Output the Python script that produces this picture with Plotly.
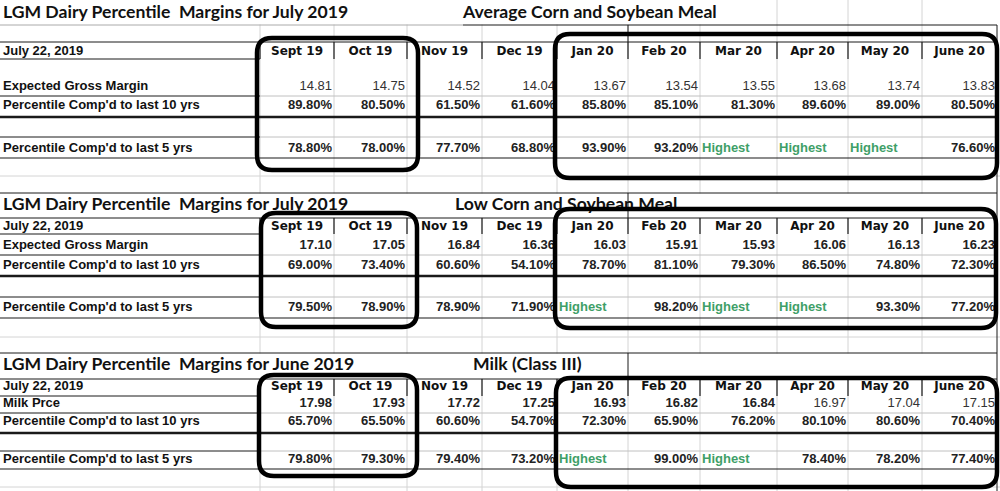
import plotly.graph_objects as go

# ---------------- data ----------------
months = ["Sept 19", "Oct 19", "Nov 19", "Dec 19", "Jan 20", "Feb 20",
          "Mar 20", "Apr 20", "May 20", "June 20"]
main_titles = ["LGM Dairy Percentile  Margins for July 2019",
               "LGM Dairy Percentile  Margins for July 2019",
               "LGM Dairy Percentile  Margins for June 2019"]
sub_titles = ["Average Corn and Soybean Meal", "Low Corn and Soybean Meal",
              "Milk (Class III)"]
date_label = "July 22, 2019"
row_labels = [
    ["Expected Gross Margin", "Percentile Comp'd to last 10 yrs", "Percentile Comp'd to last 5 yrs"],
    ["Expected Gross Margin", "Percentile Comp'd to last 10 yrs", "Percentile Comp'd to last 5 yrs"],
    ["Milk Prce", "Percentile Comp'd to last 10 yrs", "Percentile Comp'd to last 5 yrs"],
]
highest_label = "Highest"

avg_margin = [14.81, 14.75, 14.52, 14.04, 13.67, 13.54, 13.55, 13.68, 13.74, 13.83]
avg_pct10 = [89.8, 80.5, 61.5, 61.6, 85.8, 85.1, 81.3, 89.6, 89.0, 80.5]
avg_pct5 = [78.8, 78.0, 77.7, 68.8, 93.9, 93.2, None, None, None, 76.6]

low_margin = [17.10, 17.05, 16.84, 16.36, 16.03, 15.91, 15.93, 16.06, 16.13, 16.23]
low_pct10 = [69.0, 73.4, 60.6, 54.1, 78.7, 81.1, 79.3, 86.5, 74.8, 72.3]
low_pct5 = [79.5, 78.9, 78.9, 71.9, None, 98.2, None, None, 93.3, 77.2]

milk_price = [17.98, 17.93, 17.72, 17.25, 16.93, 16.82, 16.84, 16.97, 17.04, 17.15]
milk_pct10 = [65.7, 65.5, 60.6, 54.7, 72.3, 65.9, 76.2, 80.1, 80.6, 70.4]
milk_pct5 = [79.8, 79.3, 79.4, 73.2, None, 99.0, None, 78.4, 78.2, 77.4]

section_values = [
    (avg_margin, avg_pct10, avg_pct5),
    (low_margin, low_pct10, low_pct5),
    (milk_price, milk_pct10, milk_pct5),
]

# ---------------- layout / style (positions, not data) ----------------
W, H = 1000, 491
col_edges = [260, 334, 407, 482, 557, 628, 700, 777, 848, 922, 997]
label_x = 3
sections = [
    dict(title_y=14, sub_x=463, header_top=42, header_bot=59, header_y=51.5,
         rows_y=[87, 106, 149], thin_lines=[96, 137], thick=117, bottom=158,
         top=25, margin_bold=[False] * 10),
    dict(title_y=206, sub_x=455, header_top=218, header_bot=234, header_y=227,
         rows_y=[246, 266, 308], thin_lines=[255, 297], thick=276, bottom=318,
         top=193, margin_bold=[True] * 10),
    dict(title_y=366, sub_x=473, header_top=379, header_bot=396, header_y=387,
         rows_y=[404, 422, 460], thin_lines=[413, 451], thick=433, bottom=469,
         top=353, margin_bold=[True] * 7 + [False] * 3),
]
boxes = [
    (257, 38, 418, 170), (555, 34, 997, 178),
    (261, 213, 417, 327), (555, 209, 996, 328),
    (259, 375, 417, 476), (556, 378, 997, 487),
]
grid_col = "#d4d4d4"
dark = "#1a1a1a"
green = "#3f9f68"
arial = "Liberation Sans, Arial, sans-serif"
title_font = "Lato, Open Sans, sans-serif"
head_font = "DejaVu Sans, Verdana, sans-serif"

groups = {}


def add_text(x, y, txt, family, size, weight, color, pos):
    key = (family, size, weight, color, pos)
    g = groups.setdefault(key, ([], [], []))
    g[0].append(x)
    g[1].append(y)
    g[2].append(txt)


for si, sec in enumerate(sections):
    add_text(label_x, sec["title_y"], main_titles[si], title_font, 17.6, "bold", "#111", "middle right")
    add_text(sec["sub_x"], sec["title_y"], sub_titles[si], title_font, 17.6, "bold", "#111", "middle right")
    add_text(label_x, sec["header_y"], date_label, arial, 13, "bold", "#111", "middle right")
    for ci, m in enumerate(months):
        cx = (col_edges[ci] + col_edges[ci + 1]) / 2
        add_text(cx, sec["header_y"], m, head_font, 12, "bold", "#111", "middle center")
    for ri, lab in enumerate(row_labels[si]):
        add_text(label_x, sec["rows_y"][ri], lab, arial, 13, "bold", "#111", "middle right")
    vals = section_values[si]
    for ri, series in enumerate(vals):
        for ci, v in enumerate(series):
            y = sec["rows_y"][ri]
            if v is None:
                add_text(col_edges[ci] + 2, y, highest_label, arial, 13, "bold", green, "middle right")
                continue
            if ri == 0:
                txt = f"{v:.2f}"
                bold = sec["margin_bold"][ci]
            else:
                txt = f"{v:.2f}%"
                bold = True
            add_text(col_edges[ci + 1] - 2, y, txt, arial, 13,
                     "bold" if bold else "normal", "#222" if bold else "#333", "middle left")

fig = go.Figure()
for (family, size, weight, color, pos), (xs, ys, ts) in groups.items():
    fig.add_trace(go.Scatter(
        x=xs, y=ys, text=ts, mode="text", textposition=pos,
        textfont=dict(family=family, size=size, weight=weight, color=color),
        hoverinfo="skip", showlegend=False, cliponaxis=False))

shapes = []


def line(x0, y0, x1, y1, color=dark, width=1, layer="above"):
    shapes.append(dict(type="line", xref="x", yref="y", x0=x0, y0=y0, x1=x1, y1=y1,
                       line=dict(color=color, width=width), layer=layer))


# gridlines (below)
for x in col_edges[:-1]:
    line(x, 0, x, H, grid_col, 1, "below")
for y in [176, 337, 487]:
    line(0, y, W, y, grid_col, 1, "below")

# white masks for title rows (text overflow hides gridlines)
masks = [(0, 0, 722, 24.5), (0, 193.5, 997, 217.5), (0, 353.5, 997, 378.5)]
for x0, y0, x1, y1 in masks:
    shapes.append(dict(type="rect", xref="x", yref="y", x0=x0, y0=y0, x1=x1, y1=y1,
                       fillcolor="white", line=dict(width=0), layer="below"))

# section borders
for si, sec in enumerate(sections):
    if si == 0:
        line(0, sec["top"], 463, sec["top"], "#aaaaaa", 1)
        line(463, sec["top"], 997, sec["top"], dark, 1)
    else:
        line(0, sec["top"], 997, sec["top"], dark, 1)
    line(628, sec["top"], 628, sec["header_top"], dark, 1)
    line(0, sec["header_top"], 997, sec["header_top"], dark, 1)
    line(0, sec["header_bot"], 260, sec["header_bot"], dark, 1)
    for y in sec["thin_lines"]:
        line(0, y, 260, y, dark, 1)
        line(260, y, 997, y, "#c0c0c0", 1)
    line(0, sec["thick"], 997, sec["thick"], dark, 2.5)
    line(0, sec["bottom"], 997, sec["bottom"], dark, 1.2)
    for x in col_edges[:-1]:
        line(x, sec["header_top"], x, sec["header_bot"], dark, 1.2)

line(997, 25, 997, H, dark, 1)

# rounded boxes
r = 15
for x0, y0, x1, y1 in boxes:
    path = (f"M {x0 + r},{y0} L {x1 - r},{y0} Q {x1},{y0} {x1},{y0 + r} "
            f"L {x1},{y1 - r} Q {x1},{y1} {x1 - r},{y1} L {x0 + r},{y1} "
            f"Q {x0},{y1} {x0},{y1 - r} L {x0},{y0 + r} Q {x0},{y0} {x0 + r},{y0} Z")
    shapes.append(dict(type="path", xref="x", yref="y", path=path,
                       line=dict(color="#000", width=4.5), fillcolor="rgba(0,0,0,0)",
                       layer="above"))

fig.update_layout(
    width=W, height=H, margin=dict(l=0, r=0, t=0, b=0),
    paper_bgcolor="white", plot_bgcolor="white",
    xaxis=dict(range=[0, W], visible=False, fixedrange=True),
    yaxis=dict(range=[H, 0], visible=False, fixedrange=True),
    shapes=shapes, showlegend=False,
)

fig.write_html("out.html", config={"displayModeBar": False, "staticPlot": True},
               post_script="document.body.style.margin='0';document.body.style.overflow='hidden';")
